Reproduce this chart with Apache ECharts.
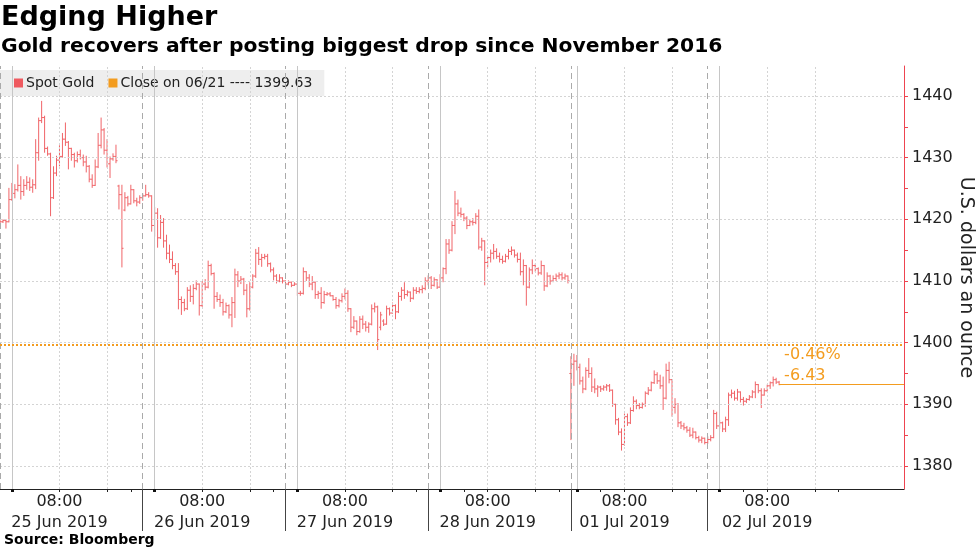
<!DOCTYPE html>
<html><head><meta charset="utf-8">
<script src="https://cdn.jsdelivr.net/npm/echarts@6/dist/echarts.min.js"></script>
<style>html,body{margin:0;padding:0;background:#fff}#c{width:980px;height:551px}</style>
</head><body><div id="c"></div>
<script>
// 30-minute OHLC bars, slot 0 = 24 Jun 22:00 (weekend gap removed after slot 191)
const open = [
1419.8,1419.6,1419.8,1419.6,1423.2,1424.2,1424.8,1425.5,1424.5,1425.5,1426.0,1425.2,
1425.6,1430.8,1436.0,1436.5,1431.5,1430.6,1423.5,1427.5,1429.6,1430.2,1433.0,1432.5,
1431.5,1430.5,1429.5,1430.5,1430.0,1429.3,1428.6,1426.5,1425.5,1428.5,1432.0,1434.5,
1431.2,1429.0,1429.8,1430.2,1425.4,1424.0,1421.5,1423.5,1422.5,1424.8,1423.0,1422.8,
1423.5,1423.8,1424.0,1423.8,1419.0,1421.0,1417.0,1419.5,1416.5,1414.5,1413.5,1412.5,
1411.5,1407.0,1406.5,1405.5,1408.5,1407.5,1408.8,1409.5,1406.0,1409.5,1409.0,1412.5,
1411.2,1407.5,1407.0,1406.5,1405.0,1406.0,1404.5,1406.5,1411.0,1410.0,1410.3,1408.5,
1405.5,1409.0,1410.8,1414.5,1413.5,1413.8,1414.0,1412.8,1411.8,1410.8,1410.0,1410.5,
1410.0,1409.5,1409.8,1409.3,1409.5,1408.0,1408.0,1411.5,1410.5,1409.5,1409.8,1407.8,
1408.0,1406.5,1407.8,1407.9,1407.6,1407.0,1406.0,1406.8,1407.5,1408.0,1405.5,1402.5,
1403.5,1401.8,1403.8,1403.0,1402.5,1403.0,1405.5,1405.8,1402.5,1403.5,1403.0,1405.5,
1404.8,1406.0,1405.0,1407.5,1408.5,1407.8,1408.2,1407.2,1408.5,1408.3,1408.6,1408.8,
1410.0,1410.5,1409.3,1410.2,1409.0,1410.5,1412.0,1416.0,1415.0,1419.0,1422.5,1421.0,
1420.8,1420.2,1419.0,1419.6,1419.5,1420.5,1415.5,1416.5,1413.0,1413.8,1414.5,1414.8,
1414.0,1413.5,1413.2,1414.0,1414.8,1415.0,1414.2,1413.5,1411.5,1412.5,1409.0,1411.8,
1412.5,1412.0,1411.3,1412.5,1409.2,1410.8,1410.0,1410.4,1410.8,1411.0,1410.5,1410.8,
1395.0,1396.5,1397.0,1396.0,1393.8,1392.5,1395.5,1395.0,1392.8,1392.5,1392.8,1392.5,
1392.8,1393.0,1392.3,1390.0,1387.5,1385.5,1383.5,1388.0,1387.0,1389.0,1390.5,1389.8,
1389.5,1390.0,1391.8,1392.3,1393.5,1394.8,1393.8,1393.0,1391.0,1395.5,1394.0,1389.5,
1390.0,1387.0,1386.5,1386.2,1385.8,1385.0,1385.5,1384.6,1384.2,1384.5,1383.8,1384.3,
1384.6,1388.5,1386.5,1387.0,1386.0,1387.5,1391.5,1391.8,1391.0,1392.0,1390.8,1390.5,
1390.8,1391.2,1392.0,1393.2,1392.2,1391.5,1392.2,1393.0,1393.5,1394.0,1393.6
];
const high = [
1420.0,1420.0,1420.0,1425.1,1425.9,1425.7,1428.9,1427.0,1426.5,1427.0,1426.8,1426.5,
1433.0,1436.5,1439.2,1436.8,1431.8,1430.8,1428.6,1430.3,1432.0,1434.0,1435.7,1432.7,
1431.6,1430.8,1431.0,1431.3,1430.5,1430.3,1428.8,1427.3,1429.7,1434.0,1436.5,1434.8,
1433.0,1430.2,1430.7,1432.1,1425.6,1425.6,1424.4,1423.8,1425.6,1424.9,1423.5,1423.9,
1424.2,1425.6,1424.4,1423.9,1422.0,1421.8,1420.7,1420.2,1417.5,1415.9,1414.8,1412.9,
1412.9,1407.5,1407.1,1409.0,1409.3,1409.5,1410.1,1409.6,1410.0,1410.3,1413.3,1412.8,
1411.4,1408.2,1407.8,1407.1,1406.5,1406.2,1407.4,1412.0,1411.6,1410.8,1410.5,1409.5,
1409.8,1411.1,1415.2,1415.5,1414.4,1414.4,1414.4,1413.0,1412.2,1411.1,1411.1,1410.6,
1410.1,1410.1,1409.9,1409.8,1409.5,1408.4,1412.2,1411.6,1411.1,1410.8,1409.9,1408.4,
1409.0,1408.4,1408.2,1408.2,1407.7,1407.4,1407.1,1408.0,1408.8,1408.5,1405.6,1404.3,
1403.6,1404.3,1404.4,1403.5,1403.3,1406.2,1406.5,1406.0,1405.0,1403.8,1406.0,1405.7,
1406.5,1406.2,1408.2,1409.0,1409.8,1408.5,1408.3,1409.0,1409.0,1409.0,1409.3,1410.6,
1410.9,1410.8,1410.6,1410.3,1411.1,1412.2,1416.8,1416.8,1419.7,1424.6,1423.2,1421.9,
1421.0,1420.5,1420.0,1420.2,1421.0,1421.6,1417.0,1416.6,1414.1,1415.1,1416.0,1415.3,
1414.6,1414.1,1414.4,1415.2,1415.6,1415.1,1414.6,1414.6,1413.5,1412.6,1412.2,1413.5,
1412.8,1412.2,1413.3,1412.6,1411.4,1411.0,1410.9,1411.2,1411.4,1411.4,1411.2,1410.9,
1397.8,1398.2,1398.0,1396.6,1394.5,1396.0,1397.5,1396.0,1394.2,1393.1,1393.0,1393.1,
1393.3,1393.3,1392.4,1390.1,1387.8,1386.1,1388.5,1388.5,1389.5,1391.3,1390.8,1390.2,
1390.3,1392.1,1392.8,1393.7,1395.5,1395.2,1394.8,1394.5,1396.6,1396.9,1394.1,1391.0,
1390.2,1387.3,1387.0,1386.5,1386.3,1386.2,1385.6,1384.9,1384.8,1384.6,1384.8,1385.0,
1389.1,1388.8,1387.5,1387.2,1388.0,1391.9,1392.4,1392.2,1392.5,1392.1,1391.2,1391.0,
1391.5,1392.3,1393.7,1393.3,1392.6,1392.6,1393.2,1393.7,1394.5,1394.3,1393.8
];
const low = [
1419.4,1419.4,1418.5,1419.5,1423.0,1423.4,1424.5,1423.2,1423.8,1424.8,1424.6,1424.3,
1424.9,1429.5,1435.6,1430.8,1430.3,1420.5,1423.3,1427.0,1428.6,1430.0,1431.9,1428.1,
1429.5,1428.4,1429.2,1429.7,1428.6,1427.6,1426.0,1425.1,1425.4,1428.3,1431.5,1430.5,
1428.4,1426.7,1429.5,1429.1,1421.6,1412.2,1421.3,1422.1,1422.4,1422.6,1422.1,1422.5,
1423.0,1423.7,1423.5,1418.0,1417.2,1415.4,1416.8,1415.4,1413.5,1412.9,1411.9,1411.0,
1405.4,1404.5,1405.1,1405.3,1406.6,1406.2,1408.5,1404.4,1405.8,1408.5,1408.8,1410.9,
1405.5,1406.6,1405.8,1404.4,1404.8,1403.9,1402.5,1404.0,1409.0,1409.5,1407.7,1404.1,
1405.2,1408.8,1410.5,1412.6,1412.3,1413.5,1412.3,1411.4,1410.1,1409.6,1409.8,1409.6,
1409.0,1409.3,1409.0,1409.2,1407.6,1407.6,1407.8,1410.0,1409.0,1408.5,1407.1,1407.1,
1405.5,1406.3,1407.6,1407.5,1406.8,1405.5,1405.7,1406.5,1407.0,1405.0,1401.7,1402.2,
1401.2,1401.6,1402.2,1401.8,1401.6,1402.8,1404.9,1398.8,1402.0,1402.7,1402.9,1404.4,
1404.7,1403.8,1404.8,1406.8,1407.1,1407.5,1406.6,1407.0,1407.9,1408.0,1408.0,1408.5,
1409.3,1408.7,1409.1,1408.7,1408.9,1409.8,1411.1,1414.4,1414.8,1417.6,1420.5,1420.3,
1419.7,1418.4,1418.9,1419.0,1419.2,1415.1,1414.9,1409.3,1412.2,1413.0,1413.5,1413.6,
1413.0,1412.8,1413.0,1413.5,1414.2,1413.8,1413.0,1410.9,1409.3,1406.0,1408.8,1411.1,
1411.5,1410.9,1411.0,1408.4,1409.0,1409.4,1409.8,1410.0,1410.3,1410.1,1410.2,1409.6,
1384.2,1393.0,1395.5,1393.2,1391.8,1392.3,1394.3,1392.0,1391.8,1391.2,1392.0,1392.2,
1392.2,1392.0,1389.6,1386.7,1385.0,1382.5,1383.3,1386.5,1386.8,1388.8,1389.2,1389.2,
1389.3,1389.6,1391.5,1392.1,1393.3,1393.3,1392.5,1389.1,1390.8,1393.4,1388.0,1388.5,
1386.3,1386.0,1385.8,1385.4,1384.7,1384.5,1384.3,1383.8,1383.7,1383.5,1383.6,1384.0,
1384.5,1386.0,1386.0,1385.5,1385.5,1386.5,1391.0,1390.6,1390.6,1390.3,1389.8,1390.2,
1390.6,1391.0,1391.0,1391.8,1389.4,1391.4,1392.0,1392.5,1392.9,1393.3,1393.1
];
const close = [
1419.6,1419.8,1419.6,1423.2,1424.2,1424.8,1425.5,1424.5,1425.5,1426.0,1425.2,1425.6,
1430.8,1436.0,1436.5,1431.5,1430.6,1423.5,1427.5,1429.6,1430.2,1433.0,1432.5,1431.5,
1430.5,1429.5,1430.5,1430.0,1429.3,1428.6,1426.5,1425.5,1428.5,1432.0,1434.5,1431.2,
1429.0,1429.8,1430.2,1429.5,1424.0,1415.3,1423.5,1422.5,1424.8,1423.0,1422.8,1423.5,
1423.8,1424.0,1423.8,1419.0,1421.0,1417.0,1419.5,1416.5,1414.5,1413.5,1412.5,1411.5,
1407.0,1406.5,1405.5,1408.5,1407.5,1408.8,1409.5,1406.0,1409.5,1409.0,1412.5,1411.2,
1407.5,1407.0,1406.5,1405.0,1406.0,1404.5,1406.5,1411.0,1410.0,1410.3,1408.5,1405.5,
1409.0,1410.8,1414.5,1413.5,1413.8,1414.0,1412.8,1411.8,1410.8,1410.0,1410.5,1410.0,
1409.5,1409.8,1409.3,1409.5,1408.0,1408.0,1411.5,1410.5,1409.5,1409.8,1407.8,1408.0,
1406.5,1407.8,1407.9,1407.6,1407.0,1406.0,1406.8,1407.5,1408.0,1405.5,1402.5,1403.5,
1401.8,1403.8,1403.0,1402.5,1403.0,1405.5,1405.8,1400.5,1404.5,1403.0,1405.5,1404.8,
1406.0,1405.0,1407.5,1408.5,1407.8,1408.2,1407.2,1408.5,1408.3,1408.6,1408.8,1410.0,
1410.5,1409.3,1410.2,1409.0,1410.5,1412.0,1416.0,1415.0,1419.0,1422.5,1421.0,1420.8,
1420.2,1419.0,1419.6,1419.5,1420.5,1415.5,1416.5,1413.0,1413.8,1414.5,1414.8,1414.0,
1413.5,1413.2,1414.0,1414.8,1415.0,1414.2,1413.5,1411.5,1412.5,1409.0,1411.8,1412.5,
1412.0,1411.3,1412.5,1409.2,1410.8,1410.0,1410.4,1410.8,1411.0,1410.5,1410.8,1410.0,
1396.5,1397.0,1396.0,1393.8,1392.5,1395.5,1395.0,1392.8,1392.5,1392.8,1392.5,1392.8,
1393.0,1392.3,1390.0,1387.5,1385.5,1383.5,1388.0,1387.0,1389.0,1390.5,1389.8,1389.5,
1390.0,1391.8,1392.3,1393.5,1394.8,1393.8,1393.0,1391.0,1395.5,1394.0,1389.5,1390.0,
1387.0,1386.5,1386.2,1385.8,1385.0,1385.5,1384.6,1384.2,1384.5,1383.8,1384.3,1384.6,
1388.5,1386.5,1387.0,1386.0,1387.5,1391.5,1391.8,1391.0,1392.0,1390.8,1390.5,1390.8,
1391.2,1392.0,1393.2,1392.2,1391.5,1392.2,1393.0,1393.5,1394.0,1393.6,1393.2
];
const refClose = 1399.63;
const refName = 'Close on 06/21 ---- 1399.63';
const seriesName = 'Spot Gold';

// axis ticks / labels (x in 30-minute slots)
const xMin = 0, xMax = 304;
const xLabelPos = [20, 68, 116, 164, 210, 258];
const xLabelText = ['08:00\n25 Jun 2019','08:00\n26 Jun 2019','08:00\n27 Jun 2019','08:00\n28 Jun 2019','08:00\n01 Jul 2019','08:00\n02 Jul 2019'];
const xTickPos = [20,36,44, 68,84,92, 116,132,140, 156,164,180,188, 202,210,226,234, 250,258,274,282];
const midnightPos = [4, 52, 100, 148, 194, 242];
const sessionPos = [0, 48, 96, 144, 192, 238];
const dottedPos = [20,36,68,84,116,132,164,180,210,226,258,274];
const separatorPos = [48, 96, 144, 192, 238];
const yMin = 1376.27, yMax = 1444.86;
const yLabels = [1380,1390,1400,1410,1420,1430,1440];
const yTicks = [1380,1385,1390,1395,1400,1405,1410,1415,1420,1425,1430,1435,1440];

const RED = '#ef5a60', BAR = '#f06468', ORANGE = '#f39c1f', AXISRED = '#ee4450';
const FONT = 'DejaVu Sans';

const ohlc = open.map((o, i) => [i, o, high[i], low[i], close[i]]);
const lastIdx = close.length - 1;
const lastClose = close[lastIdx];
const chg = lastClose - refClose;
const pctText = (chg / refClose * 100).toFixed(2) + '%';
const chgText = chg.toFixed(2);

function renderOHLC(params, api) {
  const x = api.value(0);
  const pO = api.coord([x, api.value(1)]);
  const pH = api.coord([x, api.value(2)]);
  const pL = api.coord([x, api.value(3)]);
  const pC = api.coord([x, api.value(4)]);
  const cx = pO[0];
  const w = 1.6;
  const style = { stroke: BAR, lineWidth: 1 };
  return { type: 'group', children: [
    { type: 'line', shape: { x1: cx, y1: pH[1], x2: cx, y2: pL[1] }, style },
    { type: 'line', shape: { x1: cx - w, y1: pO[1], x2: cx, y2: pO[1] }, style },
    { type: 'line', shape: { x1: cx, y1: pC[1], x2: cx + w, y2: pC[1] }, style }
  ]};
}

const vLine = (arr, color, type) => arr.map(v => ({ xAxis: v, lineStyle: { color, type, width: 1 } }));
const hLine = (arr) => arr.map(v => ({ yAxis: v, lineStyle: { color: '#d4d4d4', type: [2, 2], width: 1 } }));

const baseX = { type: 'value', min: xMin, max: xMax, position: 'bottom', splitLine: { show: false } };

const chart = echarts.init(document.getElementById('c'), null, { renderer: 'canvas' });
chart.setOption({
  animation: false,
  backgroundColor: '#fff',
  textStyle: { fontFamily: FONT },
  title: [
    { text: 'Edging Higher', left: 1, top: 4, padding: 0,
      textStyle: { fontFamily: FONT, fontWeight: 'bold', fontSize: 27, color: '#000' } },
    { text: 'Gold recovers after posting biggest drop since November 2016', left: 1, top: 37, padding: 0,
      textStyle: { fontFamily: FONT, fontWeight: 'bold', fontSize: 20.3, color: '#000' } },
    { text: 'Source: Bloomberg', left: 4, top: 533, padding: 0,
      textStyle: { fontFamily: FONT, fontWeight: 'bold', fontSize: 14, color: '#000' } }
  ],
  legend: {
    left: 0, top: 70, padding: [6, 12, 6, 14], itemGap: 14,
    itemWidth: 9, itemHeight: 9, icon: 'rect',
    backgroundColor: '#eeeeee',
    data: [seriesName, refName],
    textStyle: { fontFamily: FONT, fontSize: 14, color: '#222', padding: [0, 0, 0, -2] }
  },
  grid: { left: 0, right: 76, top: 66, bottom: 62, containLabel: false, outerBoundsMode: 'none' },
  xAxis: [
    Object.assign({}, baseX, {
      axisLine: { show: true, onZero: false, lineStyle: { color: '#222', width: 1 } },
      axisTick: { show: true, customValues: xTickPos, length: 3, lineStyle: { color: '#222' } },
      axisLabel: { customValues: xLabelPos, formatter: v => xLabelText[xLabelPos.indexOf(v)] || '',
        color: '#222', fontSize: 16, lineHeight: 21, margin: 2, fontFamily: FONT }
    }),
    Object.assign({}, baseX, {
      axisLine: { show: false, onZero: false },
      axisTick: { show: true, customValues: separatorPos, length: 42, lineStyle: { color: '#444' } },
      axisLabel: { show: false }
    }),
    Object.assign({}, baseX, {
      axisLine: { show: false, onZero: false },
      axisTick: { show: true, customValues: midnightPos, length: 3, lineStyle: { color: '#111', width: 3 } },
      axisLabel: { show: false }
    })
  ],
  yAxis: {
    type: 'value', position: 'right', min: yMin, max: yMax,
    axisLine: { show: true, onZero: false, lineStyle: { color: AXISRED, width: 1 } },
    axisTick: { show: true, customValues: yTicks, length: 4, lineStyle: { color: AXISRED } },
    axisLabel: { customValues: yLabels, formatter: v => String(v), color: '#222', fontSize: 16, margin: 8, fontFamily: FONT },
    splitLine: { show: false },
    name: 'U.S. dollars an ounce', nameLocation: 'middle', nameRotate: -90, nameGap: 52,
    nameMoveOverlap: false,
    nameTextStyle: { fontFamily: FONT, fontSize: 19, color: '#222' }
  },
  series: [
    { name: 'grid', type: 'line', data: [], silent: true, z: 1, symbol: 'none',
      markLine: { silent: true, symbol: 'none', label: { show: false }, animation: false,
        data: [].concat(hLine(yLabels), vLine(dottedPos, '#d4d4d4', [2, 2]),
                        vLine(midnightPos, '#c6c6c6', 'solid'), vLine(sessionPos, '#aaaaaa', [6, 4])) } },
    { name: seriesName, type: 'custom', renderItem: renderOHLC, data: ohlc, z: 2,
      itemStyle: { color: RED }, encode: { x: 0, y: [1, 2, 3, 4] } },
    { name: refName, type: 'line', data: [], z: 3, symbol: 'none', itemStyle: { color: ORANGE },
      lineStyle: { color: ORANGE },
      markLine: { silent: true, symbol: 'none', label: { show: false }, animation: false,
        data: [{ yAxis: refClose, lineStyle: { color: ORANGE, type: [2, 2], width: 2 } }] } },
    { name: 'last', type: 'line', data: [], z: 3, symbol: 'none',
      markLine: { silent: true, symbol: 'none', animation: false,
        lineStyle: { color: ORANGE, type: 'solid', width: 1 },
        label: { show: true, position: 'insideStartTop', formatter: pctText + '\n' + chgText,
          color: ORANGE, fontSize: 16, lineHeight: 21, fontFamily: FONT, distance: [5, -2] },
        data: [[{ coord: [lastIdx, lastClose] }, { coord: [xMax, lastClose] }]] } }
  ]
});
</script></body></html>
